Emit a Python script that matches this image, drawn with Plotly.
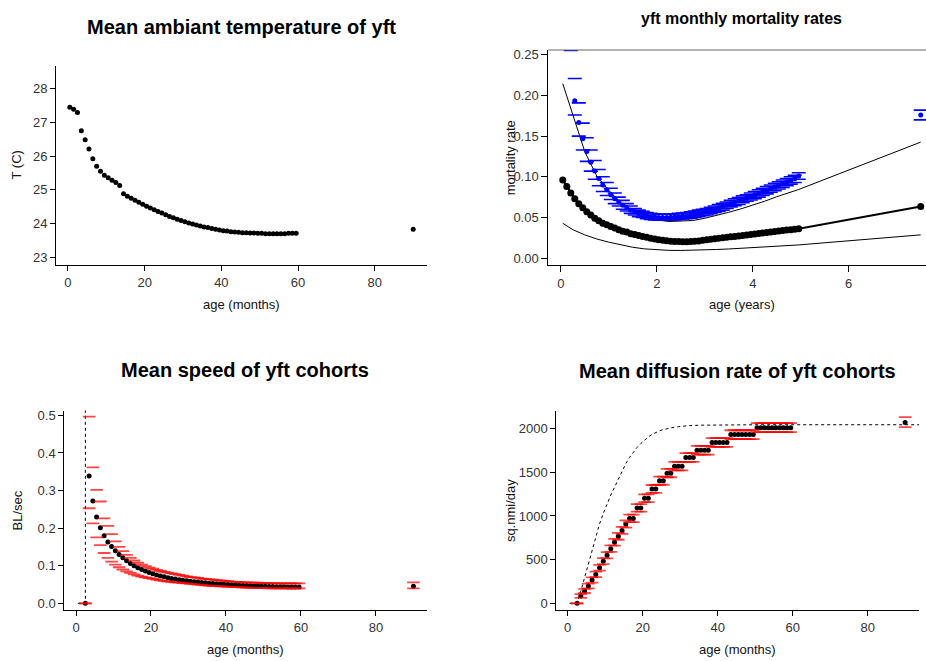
import plotly.graph_objects as go

# ---------------- data ----------------
# ages (months) of monthly cohorts, plus the pooled oldest class
ages_all = [m + 0.5 for m in range(60)] + [90]
ages_from3 = [m + 0.5 for m in range(2, 60)] + [90]

# Panel 1: mean ambient temperature (deg C)
temp = [27.45, 27.39, 27.29, 26.75, 26.48, 26.21, 25.92, 25.70, 25.55, 25.43,
        25.36, 25.28, 25.22, 25.13, 24.88, 24.81, 24.75, 24.69, 24.63, 24.57,
        24.51, 24.46, 24.41, 24.36, 24.31, 24.26, 24.21, 24.17, 24.13, 24.09,
        24.05, 24.02, 23.99, 23.96, 23.93, 23.90, 23.88, 23.85, 23.83, 23.81,
        23.79, 23.78, 23.76, 23.75, 23.74, 23.73, 23.73, 23.72, 23.72, 23.71,
        23.71, 23.70, 23.70, 23.70, 23.70, 23.70, 23.70, 23.71, 23.71, 23.71,
        23.83]

# Panel 2: mortality rates (age in years)
mort_black = [0.096, 0.088, 0.080, 0.073, 0.067, 0.062, 0.057, 0.053, 0.049, 0.046,
              0.043, 0.041, 0.039, 0.037, 0.035, 0.033, 0.032, 0.030, 0.029, 0.0278,
              0.0266, 0.0255, 0.0244, 0.0234, 0.0225, 0.0218, 0.0212, 0.0208, 0.0205, 0.0203,
              0.0202, 0.0202, 0.0203, 0.0206, 0.0211, 0.0218, 0.0225, 0.0231, 0.0237, 0.0243,
              0.0249, 0.0255, 0.0261, 0.0267, 0.0273, 0.0279, 0.0285, 0.0290, 0.0296, 0.0302,
              0.0308, 0.0314, 0.0320, 0.0326, 0.0332, 0.0338, 0.0344, 0.0350, 0.0356, 0.0362,
              0.0635]
mort_blue = [0.300, 0.1937, 0.1668, 0.1468, 0.131, 0.118, 0.107, 0.098, 0.090, 0.084,
             0.078, 0.073, 0.069, 0.065, 0.062, 0.059, 0.057, 0.055, 0.0535, 0.052,
             0.051, 0.0505, 0.050, 0.050, 0.050, 0.0502, 0.0505, 0.051, 0.0515, 0.052,
             0.053, 0.054, 0.055, 0.056, 0.057, 0.0585, 0.060, 0.0617, 0.0635, 0.0652,
             0.067, 0.0687, 0.0705, 0.0722, 0.074, 0.0757, 0.0775, 0.0795, 0.0815, 0.0835,
             0.0855, 0.0875, 0.0895, 0.0915, 0.0935, 0.0955, 0.0975, 0.101,
             0.176]
mort_blue_hi = [0.360, 0.221, 0.191, 0.166, 0.148, 0.133, 0.120, 0.109, 0.100, 0.093,
                0.086, 0.080, 0.075, 0.071, 0.067, 0.064, 0.061, 0.059, 0.0575, 0.056,
                0.055, 0.0545, 0.054, 0.054, 0.054, 0.054, 0.0545, 0.055, 0.0555, 0.056,
                0.057, 0.058, 0.059, 0.060, 0.061, 0.0625, 0.064, 0.066, 0.0675, 0.069,
                0.071, 0.073, 0.0745, 0.0765, 0.078, 0.080, 0.082, 0.084, 0.086, 0.088,
                0.090, 0.092, 0.094, 0.096, 0.098, 0.100, 0.102, 0.105,
                0.182]
mort_blue_lo = [0.2555, 0.176, 0.150, 0.133, 0.119, 0.107, 0.097, 0.089, 0.082, 0.077,
                0.072, 0.067, 0.064, 0.060, 0.058, 0.055, 0.053, 0.051, 0.050, 0.0485,
                0.0475, 0.047, 0.0465, 0.0465, 0.0465, 0.0465, 0.047, 0.0475, 0.048, 0.0485,
                0.049, 0.050, 0.051, 0.052, 0.053, 0.0545, 0.056, 0.0575, 0.059, 0.061,
                0.063, 0.0645, 0.066, 0.068, 0.070, 0.0715, 0.073, 0.075, 0.077, 0.079,
                0.081, 0.083, 0.085, 0.087, 0.089, 0.091, 0.093, 0.097,
                0.170]
bound_years = [0.042, 0.25, 0.5, 0.75, 1.0, 1.25, 1.5, 1.75, 2.0, 2.25, 2.5, 2.75,
               3.0, 3.25, 3.5, 3.75, 4.0, 4.25, 4.5, 4.75, 4.958, 7.5]
bound_upper = [0.2145, 0.176, 0.131, 0.101, 0.0835, 0.068, 0.0575, 0.051, 0.047, 0.045,
               0.0452, 0.0462, 0.049, 0.0525, 0.0563, 0.0605, 0.065, 0.070, 0.0755, 0.080,
               0.0844, 0.1427]
bound_lower = [0.0428, 0.035, 0.0286, 0.0235, 0.0196, 0.016, 0.0133, 0.0113, 0.0100, 0.0095,
               0.0094, 0.0096, 0.0101, 0.0106, 0.0112, 0.0119, 0.0126, 0.0134, 0.0143, 0.0152,
               0.0162, 0.0286]

# Panel 3: mean speed (BL/sec)
speed = [0.0, 0.339, 0.272, 0.230, 0.201, 0.180, 0.163, 0.151, 0.140, 0.130,
         0.121, 0.113, 0.106, 0.100, 0.095, 0.090, 0.086, 0.082, 0.0785, 0.0755,
         0.0728, 0.0705, 0.0683, 0.0664, 0.0646, 0.063, 0.0615, 0.0601, 0.0589, 0.0577,
         0.0566, 0.0556, 0.0546, 0.0537, 0.0529, 0.0521, 0.0514, 0.0507, 0.0500, 0.0494,
         0.0488, 0.0482, 0.0477, 0.0472, 0.0467, 0.0463, 0.0459, 0.0455, 0.0452, 0.0449,
         0.0446, 0.0443, 0.0441, 0.0439, 0.0437, 0.0435, 0.0434, 0.0433,
         0.0455]
speed_hi = [0.0, 0.497, 0.362, 0.302, 0.271, 0.226, 0.206, 0.184, 0.165, 0.150,
            0.139, 0.129, 0.121, 0.114, 0.108, 0.103, 0.099, 0.095, 0.092, 0.089,
            0.086, 0.084, 0.082, 0.080, 0.078, 0.076, 0.074, 0.072, 0.070, 0.069,
            0.068, 0.066, 0.065, 0.064, 0.063, 0.062, 0.061, 0.060, 0.059, 0.058,
            0.057, 0.057, 0.056, 0.056, 0.055, 0.055, 0.055, 0.054, 0.054, 0.054,
            0.054, 0.053, 0.053, 0.053, 0.053, 0.053, 0.053, 0.053,
            0.056]
speed_lo = [0.0, 0.253, 0.2125, 0.1755, 0.155, 0.134, 0.121, 0.111, 0.103, 0.096,
            0.090, 0.085, 0.081, 0.077, 0.074, 0.071, 0.069, 0.067, 0.065, 0.063,
            0.061, 0.060, 0.058, 0.057, 0.056, 0.055, 0.054, 0.053, 0.052, 0.051,
            0.050, 0.049, 0.048, 0.047, 0.046, 0.046, 0.045, 0.045, 0.044, 0.044,
            0.043, 0.043, 0.042, 0.042, 0.042, 0.041, 0.041, 0.041, 0.041, 0.040,
            0.040, 0.040, 0.040, 0.040, 0.040, 0.040, 0.040, 0.040,
            0.040]
speed_ref_ages = [0.5, 1.5, 2.5, 2.5]
speed_ref = [0.0, 0.0, 0.0, 1.0]

# Panel 4: mean diffusion rate (sq.nmi/day)
diff = ([0, 83, 140, 197, 266, 330, 406, 482, 550, 626, 698, 767, 835, 907,
         972, 972, 1093, 1093, 1203, 1203, 1309, 1309, 1404, 1404, 1491, 1491]
        + [1571] * 3 + [1670] * 3 + [1753] * 4 + [1841] * 5 + [1932] * 7 + [2011] * 10
        + [2070])
diff_hi = ([0, 105, 165, 225, 296, 362, 440, 517, 587, 664, 737, 807, 876, 949,
            1015, 1015, 1137, 1137, 1248, 1248, 1355, 1355, 1451, 1451, 1539, 1539]
           + [1620] * 3 + [1719] * 3 + [1803] * 4 + [1891] * 5 + [1982] * 7 + [2063] * 10
           + [2132])
diff_lo = ([0, 62, 118, 172, 238, 300, 374, 448, 515, 589, 660, 728, 795, 866,
            930, 930, 1050, 1050, 1159, 1159, 1264, 1264, 1358, 1358, 1444, 1444]
           + [1523] * 3 + [1621] * 3 + [1704] * 4 + [1791] * 5 + [1881] * 7 + [1960] * 10
           + [2018])
diff_ref_ages = [0.5, 1.5, 2.5, 3.5, 4.5, 5.5, 6.5, 7.5, 8.5, 9.5, 10.5, 11.5, 12.5,
                 13.5, 14.5, 15.5, 16.5, 17.5, 18.5, 19.5, 20.5, 21.5, 22.5, 23.5,
                 24.5, 25.5, 26.5, 27.5, 28.5, 29.5, 30.5, 32.5, 35.5, 40.5, 50.5,
                 59.5, 95]
diff_ref = [0, 0, 0, 140, 295, 470, 630, 780, 910, 1030, 1140, 1240, 1330, 1420,
            1515, 1600, 1670, 1730, 1785, 1830, 1870, 1905, 1935, 1958, 1976, 1990,
            2001, 2010, 2017, 2023, 2028, 2035, 2040, 2044, 2045, 2045, 2045]

assert len(temp) == len(ages_all) == len(mort_black)
for s in (mort_blue, mort_blue_hi, mort_blue_lo, speed, speed_hi, speed_lo,
          diff, diff_hi, diff_lo):
    assert len(s) == len(ages_from3), len(s)

years_all = [a / 12 for a in ages_all]
years_from3 = [a / 12 for a in ages_from3]

# ---------------- figure ----------------
W, H = 926, 661
def fx(x):
    return x / W
def fy(y):
    return 1 - y / H

FONT = "Liberation Sans, Arial, Helvetica, sans-serif"
RED = "rgba(255,0,0,0.72)"
BLUE = "#0000ff"

fig = go.Figure()

# Panel 1
fig.add_trace(go.Scatter(x=ages_all, y=temp, mode="markers",
                         marker=dict(size=5, color="black"),
                         xaxis="x", yaxis="y", hoverinfo="skip"))

# Panel 2
fig.add_trace(go.Scatter(x=bound_years, y=bound_upper, mode="lines",
                         line=dict(color="black", width=1),
                         xaxis="x2", yaxis="y2", hoverinfo="skip"))
fig.add_trace(go.Scatter(x=bound_years, y=bound_lower, mode="lines",
                         line=dict(color="black", width=1),
                         xaxis="x2", yaxis="y2", hoverinfo="skip"))
fig.add_trace(go.Scatter(x=years_all, y=mort_black, mode="lines+markers",
                         line=dict(color="black", width=2),
                         marker=dict(size=7, color="black"),
                         xaxis="x2", yaxis="y2", hoverinfo="skip"))
fig.add_trace(go.Scatter(x=years_from3, y=mort_blue, mode="markers",
                         marker=dict(size=5, color=BLUE),
                         xaxis="x2", yaxis="y2", hoverinfo="skip"))
for cap in (mort_blue_hi, mort_blue_lo):
    fig.add_trace(go.Scatter(x=years_from3, y=cap, mode="markers",
                             marker=dict(symbol="line-ew", size=10,
                                         line=dict(width=1.6, color=BLUE)),
                             xaxis="x2", yaxis="y2", hoverinfo="skip"))

# Panel 3
fig.add_trace(go.Scatter(x=speed_ref_ages, y=speed_ref, mode="lines",
                         line=dict(color="black", width=1, dash="3px,3px"),
                         xaxis="x3", yaxis="y3", hoverinfo="skip"))
fig.add_trace(go.Scatter(x=ages_from3, y=speed, mode="markers",
                         marker=dict(size=5, color="black"),
                         xaxis="x3", yaxis="y3", hoverinfo="skip"))
for cap in (speed_hi, speed_lo):
    fig.add_trace(go.Scatter(x=ages_from3, y=cap, mode="markers",
                             marker=dict(symbol="line-ew", size=9,
                                         line=dict(width=1.8, color=RED)),
                             xaxis="x3", yaxis="y3", hoverinfo="skip"))

# Panel 4
fig.add_trace(go.Scatter(x=diff_ref_ages, y=diff_ref, mode="lines",
                         line=dict(color="black", width=1, dash="3px,3px"),
                         xaxis="x4", yaxis="y4", hoverinfo="skip"))
fig.add_trace(go.Scatter(x=ages_from3, y=diff, mode="markers",
                         marker=dict(size=5, color="black"),
                         xaxis="x4", yaxis="y4", hoverinfo="skip"))
for cap in (diff_hi, diff_lo):
    fig.add_trace(go.Scatter(x=ages_from3, y=cap, mode="markers",
                             marker=dict(symbol="line-ew", size=9,
                                         line=dict(width=1.8, color=RED)),
                             xaxis="x4", yaxis="y4", hoverinfo="skip"))

def axis(domain, rng, tickvals, fmt=None, anchor=None, ticklen=5):
    d = dict(domain=domain, range=rng, tickvals=tickvals, showgrid=False,
             zeroline=False, showline=True, linecolor="black", linewidth=1,
             ticks="outside", ticklen=ticklen, tickwidth=1, tickcolor="black",
             tickfont=dict(family=FONT, size=13, color="#333333"),
             anchor=anchor, fixedrange=True)
    if fmt:
        d["tickformat"] = fmt
    return d

# pixel geometry of the four plotting regions
p1 = (56, 427, 63, 264)
p2 = (548.3, 926, 47.3, 264)
p3 = (64.3, 427.3, 410, 611)
p4 = (556.3, 919, 410, 611)

def xdom(p):
    return [fx(p[0]), min(1.0, fx(p[1]))]
def ydom(p):
    return [fy(p[3]), fy(p[2])]

fig.update_layout(
    width=W, height=H, margin=dict(l=0, r=0, t=0, b=0),
    paper_bgcolor="white", plot_bgcolor="white", showlegend=False,
    font=dict(family=FONT),
    xaxis=axis(xdom(p1), [-3.1, 93.6], [0, 20, 40, 60, 80], anchor="y"),
    yaxis=axis(ydom(p1), [22.76, 28.68], [23, 24, 25, 26, 27, 28], anchor="x"),
    xaxis2=axis(xdom(p2), [-0.26, 7.61], [0, 2, 4, 6], anchor="y2", ticklen=6),
    yaxis2=axis(ydom(p2), [-0.009, 0.256], [0, 0.05, 0.10, 0.15, 0.20, 0.25],
                fmt=".2f", anchor="x2", ticklen=6),
    xaxis3=axis(xdom(p3), [-3.12, 93.7], [0, 20, 40, 60, 80], anchor="y3"),
    yaxis3=axis(ydom(p3), [-0.0185, 0.513], [0, 0.1, 0.2, 0.3, 0.4, 0.5],
                fmt=".1f", anchor="x3"),
    xaxis4=axis(xdom(p4), [-3.04, 93.7], [0, 20, 40, 60, 80], anchor="y4"),
    yaxis4=axis(ydom(p4), [-80, 2208], [0, 500, 1000, 1500, 2000], anchor="x4"),
)

# grey top border of the mortality panel
fig.add_shape(type="line", xref="x2 domain", yref="y2 domain",
              x0=0, x1=1, y0=1, y1=1, line=dict(color="#666666", width=1))

def ann(text, x, y, size, bold=False, angle=0, color="#111111"):
    fig.add_annotation(text=text, x=fx(x), y=fy(y), xref="paper", yref="paper",
                       xanchor="center", yanchor="middle", showarrow=False,
                       textangle=angle,
                       font=dict(family=FONT, size=size, color=color,
                                 weight="bold" if bold else "normal"))

# titles
ann("Mean ambiant temperature of yft", 241.7, 24, 20, bold=True, color="black")
ann("yft monthly mortality rates", 741.3, 15.5, 16, bold=True, color="black")
ann("Mean speed of yft cohorts", 245.5, 369.7, 20, bold=True, color="black")
ann("Mean diffusion rate of yft cohorts", 737.3, 370.3, 20, bold=True, color="black")

# axis titles
ann("age (months)", 241.7, 303.5, 13)
ann("T (C)", 17, 163.5, 13, angle=-90)
ann("age (years)", 741.7, 303.5, 13)
ann("mortality rate", 510.7, 155.6, 13, angle=-90)
ann("age (months)", 245.8, 650.5, 13)
ann("BL/sec", 17, 510.5, 13, angle=-90)
ann("age (months)", 737.5, 650.5, 13)
ann("sq.nmi/day", 510.7, 510.5, 13, angle=-90)

fig.write_html("out.html")
